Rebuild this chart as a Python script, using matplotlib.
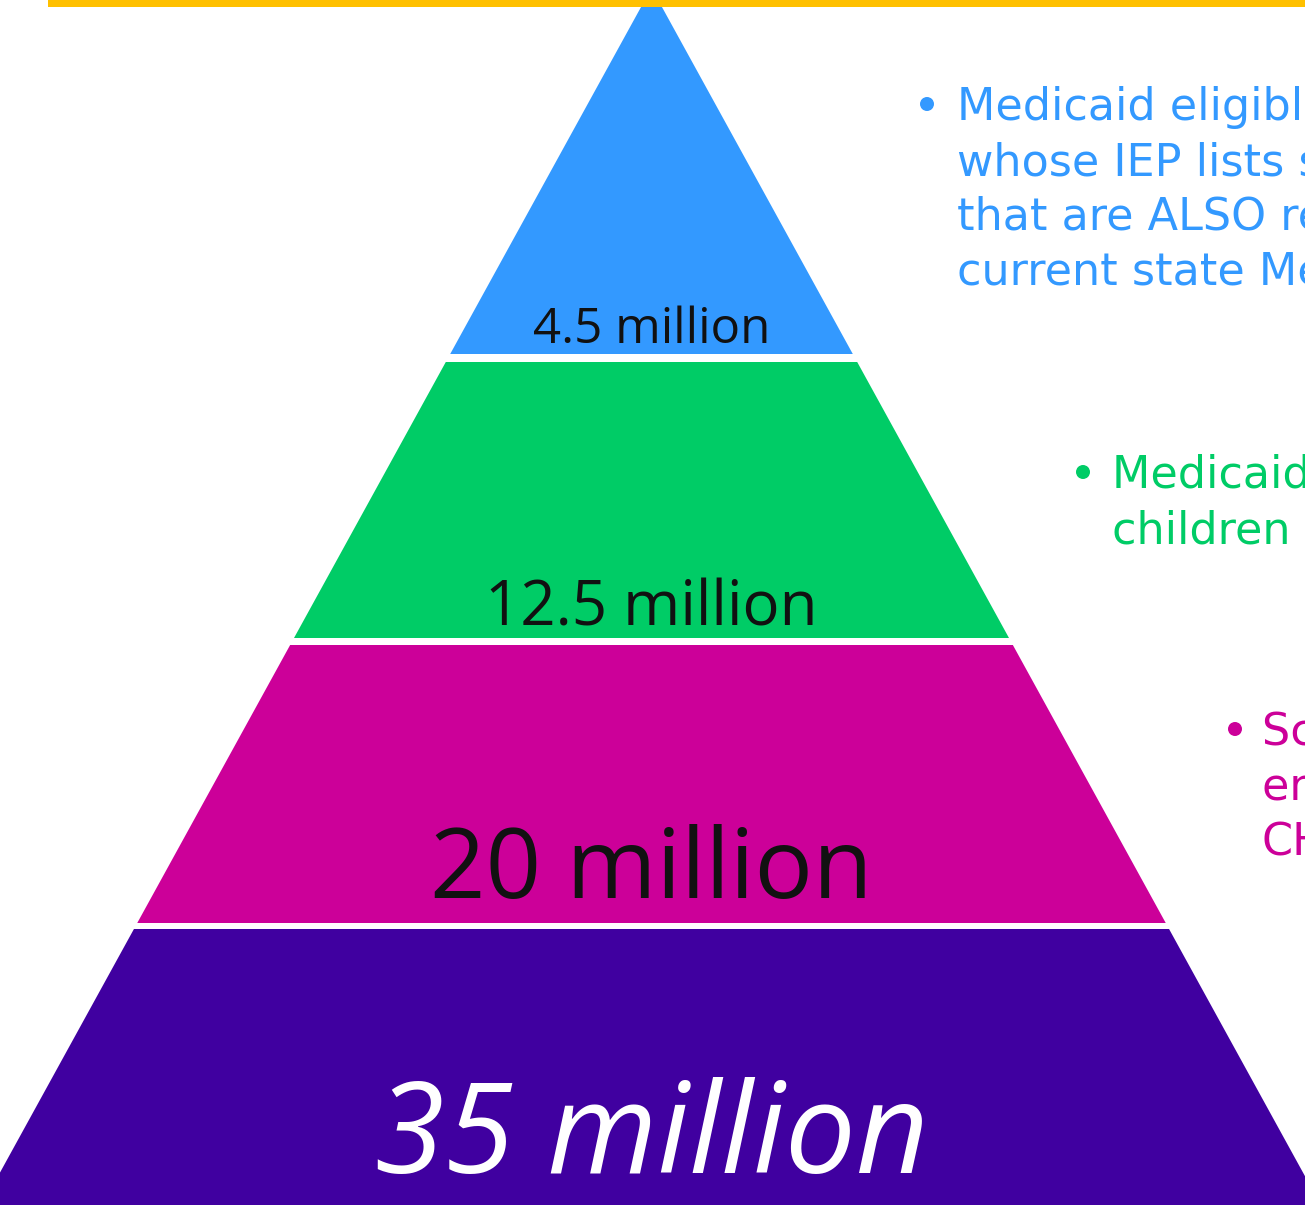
import matplotlib
matplotlib.use("Agg")
import matplotlib.pyplot as plt
from matplotlib.patches import Polygon, Rectangle, Circle

# Population tiers, top (narrowest) to bottom (widest)
tier_values = [4.5, 12.5, 20, 35]          # millions
tier_colors = ["#3399FF", "#00CC66", "#CC0099", "#4000A0"]
label_colors = ["#111111", "#111111", "#111111", "#FFFFFF"]
label_sizes = [35.5, 44.5, 70, 91]
label_styles = ["normal", "normal", "normal", "italic"]

# Bullet descriptions beside the upper three tiers
bullet_lines = [
    ["Medicaid eligible students",
     "whose IEP lists services",
     "that are ALSO reimbursable under",
     "current state Medicaid plans"],
    ["Medicaid eligible",
     "children in school"],
    ["School-age children",
     "enrolled in Medicaid",
     "CHIP"],
]
bullet_colors = ["#3399FF", "#00CC66", "#CC0099"]

W, H = 1305, 1205
fig = plt.figure(figsize=(W / 100, H / 100), dpi=100)
ax = fig.add_axes([0, 0, 1, 1])
ax.set_xlim(0, W)
ax.set_ylim(H, 0)
ax.axis("off")

# Pyramid geometry (pixel-like axes units)
cx, apex_y, slope = 651.5, -12, 0.55
bands = [(-12, 354), (362, 638), (645, 923), (929, 1240)]


def half_width(y):
    return slope * (y - apex_y)


for (y0, y1), color in zip(bands, tier_colors):
    pts = [(cx - half_width(y0), y0), (cx + half_width(y0), y0),
           (cx + half_width(y1), y1), (cx - half_width(y1), y1)]
    ax.add_patch(Polygon(pts, closed=True, facecolor=color, edgecolor="none"))

# Value labels
label_baselines = [343, 625, 898, 1173]
for v, yb, c, s, st in zip(tier_values, label_baselines, label_colors,
                           label_sizes, label_styles):
    ax.text(cx, yb, f"{v:g} million", ha="center", va="baseline",
            color=c, fontsize=s, style=st, family="Open Sans")

# Top accent bar
ax.add_patch(Rectangle((48, 0), W - 48, 7, facecolor="#FFC000",
                       edgecolor="none", zorder=5))

# Bullet text blocks
bullet_x = [927, 1083, 1235]
text_x = [957, 1112, 1262]
first_baseline = [120, 488, 745]
line_step = 55
for lines, bx, tx, yb, col in zip(bullet_lines, bullet_x, text_x,
                                  first_baseline, bullet_colors):
    ax.add_patch(Circle((bx, yb - 16), 7, facecolor=col, edgecolor="none"))
    for i, line in enumerate(lines):
        ax.text(tx, yb + i * line_step, line, ha="left", va="baseline",
                color=col, fontsize=32, family="DejaVu Sans")

fig.savefig("out.png", dpi=100)
